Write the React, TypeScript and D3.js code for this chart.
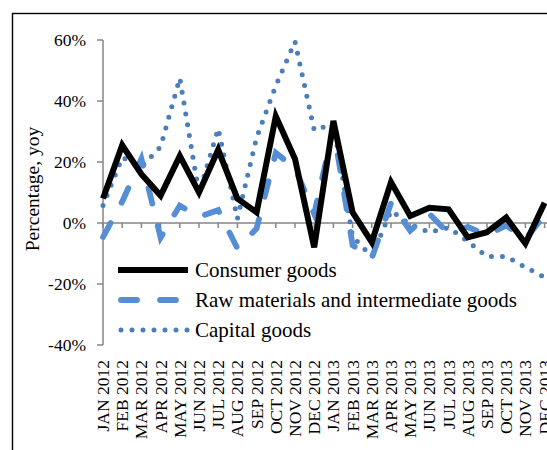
import * as d3 from 'd3';
import React from 'react';

const months = [
  'JAN 2012', 'FEB 2012', 'MAR 2012', 'APR 2012', 'MAY 2012', 'JUN 2012',
  'JUL 2012', 'AUG 2012', 'SEP 2012', 'OCT 2012', 'NOV 2012', 'DEC 2012',
  'JAN 2013', 'FEB 2013', 'MAR 2013', 'APR 2013', 'MAY 2013', 'JUN 2013',
  'JUL 2013', 'AUG 2013', 'SEP 2013', 'OCT 2013', 'NOV 2013', 'DEC 2013',
];
const consumer = [8, 25.5, 16, 9, 22, 10, 24, 8, 3.5, 35, 21, -8, 33.5, 3.5, -6.3, 13.4, 2.3, 5, 4.5, -4.7, -3, 1.8, -6.7, 6.6];
const rawMaterials = [-4.6, 7, 21, -4.8, 5.7, 2, 4.2, -8.3, -1.8, 23, 18, 3, 31, -7.3, -11.5, 6.5, -2.5, 3, -3.5, -1.3, -4, -0.8, -5.3, 2.6];
const capital = [5.7, 21.5, 18.3, 25, 47.5, 9.6, 31, 1.4, 28, 45, 59.5, 30.5, 32.5, -4.5, -11, 4, -0.5, -3, -1.5, -6, -11, -11, -14.5, -17.8];
const yTicks = [-40, -20, 0, 20, 40, 60];

const series = [
  { name: 'Consumer goods', values: consumer, color: '#000000', width: 6, dash: null, cap: 'butt' },
  { name: 'Raw materials and intermediate goods', values: rawMaterials, color: '#558ED5', width: 5.8, dash: '16 23', cap: 'round' },
  { name: 'Capital goods', values: capital, color: '#4A7EBB', width: 5, dash: '0 11', cap: 'round' },
];

const FONT = "'Liberation Serif', 'Times New Roman', serif";
const AXIS = '#868686';

export default function App() {
  const x = d3.scalePoint<string>().domain(months).range([103, 544.6]);
  const y = d3.scaleLinear().domain([-40, 60]).range([345, 40]);
  const line = d3
    .line<number>()
    .x((_, i) => x(months[i]) as number)
    .y((d) => y(d));

  return (
    <svg
      width={547}
      height={450}
      style={{ position: 'absolute', left: 0, top: 0, background: '#fff' }}
      fontFamily={FONT}
    >
      <rect x={12.5} y={13.5} width={600} height={500} fill="#fff" stroke="#000" strokeWidth={1.4} />

      {/* y axis */}
      <line x1={103} x2={103} y1={y(60)} y2={y(-40)} stroke={AXIS} strokeWidth={1.5} />
      {yTicks.map((t) => (
        <g key={t}>
          <line x1={97} x2={103} y1={y(t)} y2={y(t)} stroke={AXIS} strokeWidth={1.5} />
          <text x={86} y={y(t)} dy="0.35em" textAnchor="end" fontSize={17.5} fill="#000">
            {t}%
          </text>
        </g>
      ))}
      <text
        transform={`translate(32,189) rotate(-90)`}
        textAnchor="middle"
        dy="0.35em"
        fontSize={19.5}
        fill="#000"
      >
        Percentage, yoy
      </text>

      {/* x axis at zero */}
      <line x1={103} x2={547} y1={y(0)} y2={y(0)} stroke={AXIS} strokeWidth={1.5} />
      {months.map((m) => (
        <g key={m}>
          <line x1={x(m)} x2={x(m)} y1={y(0)} y2={y(0) + 5} stroke={AXIS} strokeWidth={1.5} />
          <text
            transform={`translate(${(x(m) as number) + 6},360) rotate(-90)`}
            textAnchor="end"
            fontSize={17.5}
            fill="#000"
          >
            {m}
          </text>
        </g>
      ))}

      {/* series, drawn back to front */}
      {[...series].reverse().map((s) => (
        <path
          key={s.name}
          d={line(s.values) || ''}
          fill="none"
          stroke={s.color}
          strokeWidth={s.width}
          strokeDasharray={s.dash || undefined}
          strokeLinecap={s.cap as any}
          strokeLinejoin="miter"
        />
      ))}

      {/* legend */}
      {series.map((s, i) => {
        const ly = 270 + i * 30;
        return (
          <g key={s.name}>
            <line
              x1={s.cap === 'round' ? 121 : 118}
              x2={188}
              y1={ly}
              y2={ly}
              stroke={s.color}
              strokeWidth={s.width}
              strokeDasharray={s.dash || undefined}
              strokeLinecap={s.cap as any}
            />
            <text x={195} y={ly} dy="0.33em" fontSize={21} fill="#000">
              {s.name}
            </text>
          </g>
        );
      })}
    </svg>
  );
}
